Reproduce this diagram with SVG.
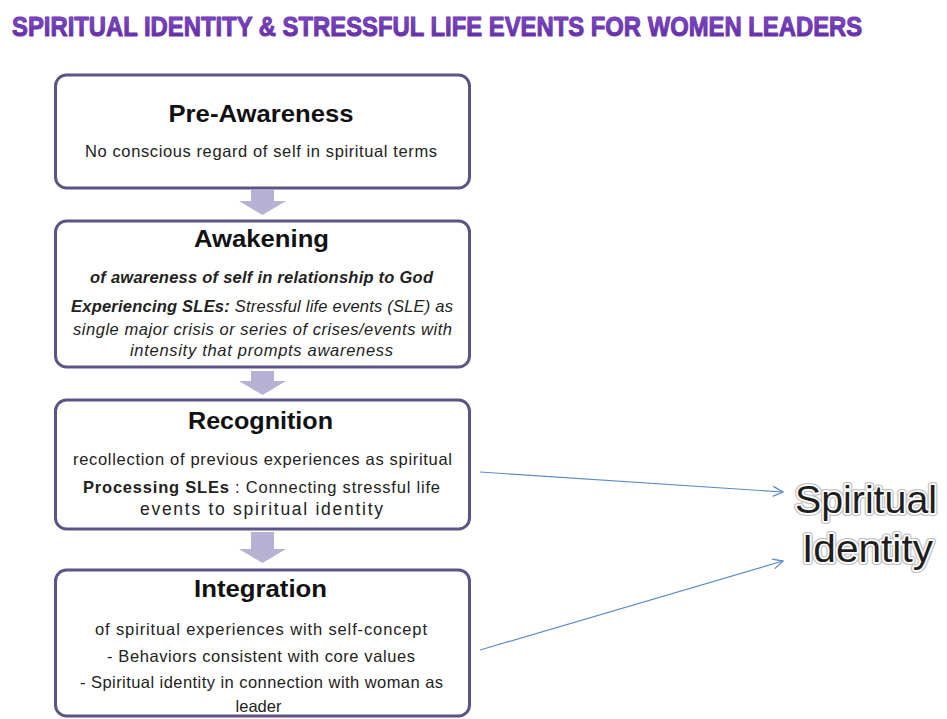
<svg xmlns="http://www.w3.org/2000/svg" width="947" height="719" viewBox="0 0 947 719">
  <defs>
    <linearGradient id="titleFill" x1="0" y1="0" x2="0" y2="1">
      <stop offset="0" stop-color="#8a4fd0"/>
      <stop offset="1" stop-color="#5b2a98"/>
    </linearGradient>
    <marker id="chevron" viewBox="0 0 12 12" refX="11" refY="6" markerWidth="12" markerHeight="12" markerUnits="userSpaceOnUse" orient="auto">
      <path d="M1,1 L11,6 L1,11" fill="none" stroke="#5b8cc8" stroke-width="1.3"/>
    </marker>
  </defs>
  <style>
    .box { fill: #ffffff; stroke: #5e5384; stroke-width: 3; }
    .flow { fill: #b7b1d4; }
    .head { font-family: "Liberation Sans", Arial, sans-serif; font-weight: bold; font-size: 24px; fill: #111; text-anchor: middle; }
    .body { font-family: "Liberation Sans", Arial, sans-serif; font-size: 16.5px; fill: #222; text-anchor: middle; }
    .wide { font-size: 17.5px; }
    .it { font-style: italic; }
    .b { font-weight: bold; }
    .link { fill: none; stroke: #5b8cc8; stroke-width: 1.2; marker-end: url(#chevron); }
    .title { font-family: "Liberation Sans", Arial, sans-serif; font-weight: bold; font-size: 27px; stroke: #6a35b0; stroke-width: 1; stroke-linejoin: round; }
    .big { font-family: "Liberation Sans", Arial, sans-serif; font-size: 39px; text-anchor: middle; }
  </style>

  <rect width="947" height="719" fill="#ffffff"/>

  <!-- heading, condensed horizontally -->
  <g id="title" transform="translate(12,36) scale(0.78,1)">
    <text class="title" x="0" y="0" textLength="1090" lengthAdjust="spacingAndGlyphs" fill="url(#titleFill)">SPIRITUAL IDENTITY &amp; STRESSFUL LIFE EVENTS FOR WOMEN LEADERS</text>
  </g>

  <!-- block arrows between the stages -->
  <g id="flow-arrows">
    <path class="flow" d="M251,190 H274 V201 H286 L262.5,215 L239,201 H251 Z"/>
    <path class="flow" d="M251,371 H274 V381 H286 L262.5,395 L239,381 H251 Z"/>
    <path class="flow" d="M251,532 H274 V549 H286 L262.5,563 L239,549 H251 Z"/>
  </g>

  <g id="pre-awareness">
    <rect class="box" x="55.5" y="75" width="414" height="113" rx="11"/>
    <text class="head" x="261" y="122" textLength="185" lengthAdjust="spacingAndGlyphs">Pre-Awareness</text>
    <text class="body" x="261" y="157" textLength="352" lengthAdjust="spacing">No conscious regard of self in spiritual terms</text>
  </g>

  <g id="awakening">
    <rect class="box" x="55.5" y="221" width="414" height="146" rx="11"/>
    <text class="head" x="261.5" y="247" textLength="135" lengthAdjust="spacingAndGlyphs">Awakening</text>
    <text class="body it b" x="261.5" y="283" textLength="343" lengthAdjust="spacing">of awareness of self in relationship to God</text>
    <text class="body it" x="262" y="312" textLength="382" lengthAdjust="spacing"><tspan class="b">Experiencing  SLEs:</tspan> Stressful life events (SLE) as</text>
    <text class="body it" x="262.5" y="335" textLength="379" lengthAdjust="spacing">single major crisis or series of crises/events with</text>
    <text class="body it" x="261.5" y="356" textLength="263" lengthAdjust="spacing">intensity that prompts awareness</text>
  </g>

  <g id="recognition">
    <rect class="box" x="55.5" y="400" width="414" height="129" rx="11"/>
    <text class="head" x="260.5" y="429" textLength="145" lengthAdjust="spacingAndGlyphs">Recognition</text>
    <text class="body" x="262.5" y="465" textLength="379" lengthAdjust="spacing">recollection of previous experiences as spiritual</text>
    <text class="body" x="261.5" y="493" textLength="357" lengthAdjust="spacing"><tspan class="b">Processing SLEs</tspan> : Connecting stressful life</text>
    <text class="body wide" x="261.5" y="515" textLength="243" lengthAdjust="spacing">events to spiritual identity</text>
  </g>

  <g id="integration">
    <rect class="box" x="55.5" y="570" width="414" height="146" rx="11"/>
    <text class="head" x="260.5" y="597" textLength="133" lengthAdjust="spacingAndGlyphs">Integration</text>
    <text class="body" x="261" y="635" textLength="332" lengthAdjust="spacing">of spiritual experiences with self-concept</text>
    <text class="body" x="261" y="662" textLength="308" lengthAdjust="spacing">- Behaviors consistent with core values</text>
    <text class="body" x="261.5" y="688" textLength="363" lengthAdjust="spacing">- Spiritual identity in connection with woman as</text>
    <text class="body" x="258.5" y="712">leader</text>
  </g>

  <!-- outlined label: grey halo, white rim, dark fill -->
  <g id="spiritual-identity">
    <g stroke="#9a9a9a" stroke-width="6" stroke-linejoin="round" fill="#9a9a9a" opacity="0.6">
      <text class="big" x="866" y="513" textLength="142" lengthAdjust="spacingAndGlyphs">Spiritual</text>
      <text class="big" x="867.5" y="562" textLength="131" lengthAdjust="spacingAndGlyphs">Identity</text>
    </g>
    <g stroke="#ffffff" stroke-width="3.5" stroke-linejoin="round" fill="#ffffff">
      <text class="big" x="866" y="513" textLength="142" lengthAdjust="spacingAndGlyphs">Spiritual</text>
      <text class="big" x="867.5" y="562" textLength="131" lengthAdjust="spacingAndGlyphs">Identity</text>
    </g>
    <g fill="#1e1e1e">
      <text class="big" x="866" y="513" textLength="142" lengthAdjust="spacingAndGlyphs">Spiritual</text>
      <text class="big" x="867.5" y="562" textLength="131" lengthAdjust="spacingAndGlyphs">Identity</text>
    </g>
  </g>

  <g id="connectors">
    <line class="link" x1="480" y1="472" x2="783" y2="492"/>
    <line class="link" x1="480" y1="650" x2="783" y2="561"/>
  </g>
</svg>
